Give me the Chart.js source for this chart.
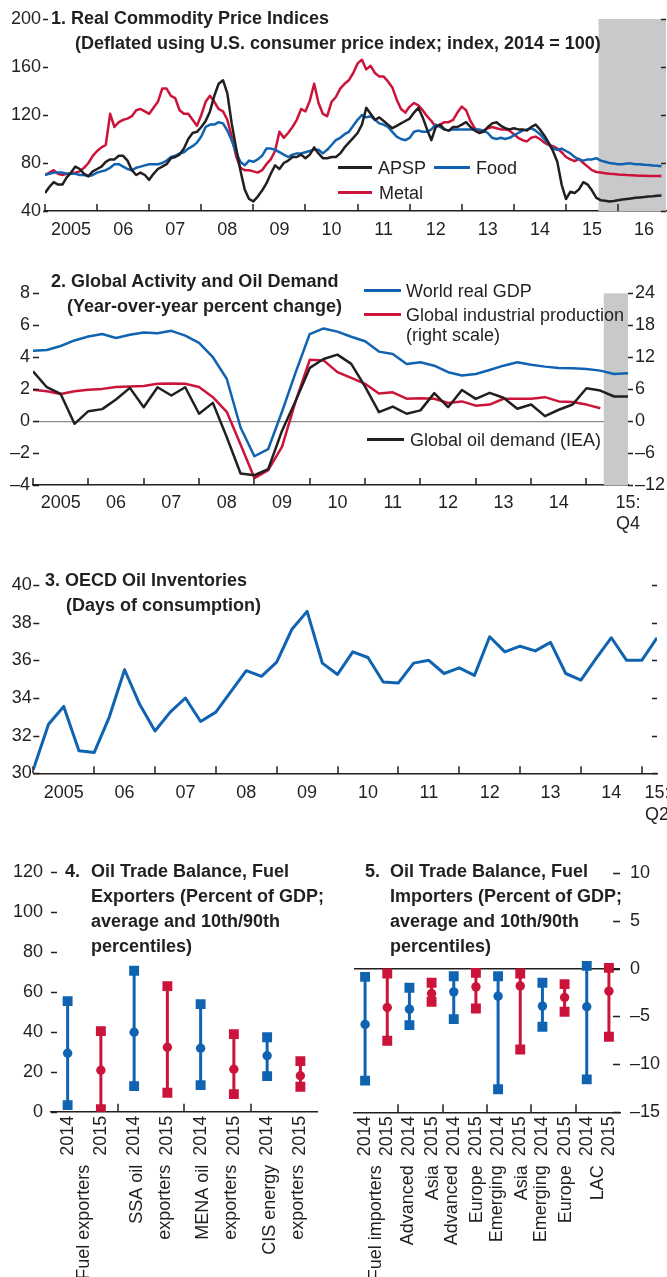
<!DOCTYPE html>
<html lang="en">
<head>
<meta charset="utf-8">
<title>Commodity prices, global activity, oil inventories and oil trade balances</title>
<script src="https://cdn.jsdelivr.net/npm/chart.js@4.4.1/dist/chart.umd.min.js"></script>
<style>
  html, body { margin: 0; padding: 0; background: #fff; }
  #page { position: relative; width: 667px; height: 1277px; overflow: hidden;
          font-family: "Liberation Sans", Arial, sans-serif; color: #231f20; }
  #page canvas { position: absolute; }
  .title { position: absolute; font-size: 18px; font-weight: bold; line-height: 25px; white-space: nowrap; }
  .key { position: absolute; font-size: 18px; line-height: 20px; white-space: nowrap; }
  .swatch { position: absolute; height: 3px; }
</style>
</head>
<body>
<div id="page">
  <canvas id="c1" width="667" height="245" style="left:0;top:0"></canvas>
  <canvas id="c2" width="667" height="270" style="left:0;top:270px"></canvas>
  <canvas id="c3" width="667" height="270" style="left:0;top:560px"></canvas>
  <canvas id="c4" width="340" height="427" style="left:0;top:850px"></canvas>
  <canvas id="c5" width="327" height="427" style="left:340px;top:850px"></canvas>

  <div class="title" style="left:51px;top:6px">1. Real Commodity Price Indices<br><span style="padding-left:24px">(Deflated using U.S. consumer price index; index, 2014 = 100)</span></div>
  <div class="swatch" style="left:338px;top:166px;width:34px;background:#231f20"></div>
  <div class="key" style="left:378px;top:158px">APSP</div>
  <div class="swatch" style="left:434px;top:166px;width:36px;background:#0f63b0"></div>
  <div class="key" style="left:476px;top:158px">Food</div>
  <div class="swatch" style="left:338px;top:191px;width:34px;background:#cc1339"></div>
  <div class="key" style="left:379px;top:183px">Metal</div>

  <div class="title" style="left:51px;top:269px">2. Global Activity and Oil Demand<br><span style="padding-left:16px">(Year-over-year percent change)</span></div>
  <div class="swatch" style="left:364px;top:289px;width:37px;background:#0f63b0"></div>
  <div class="key" style="left:406px;top:281px">World real GDP</div>
  <div class="swatch" style="left:364px;top:313px;width:37px;background:#cc1339"></div>
  <div class="key" style="left:406px;top:305px">Global industrial production<br>(right scale)</div>
  <div class="swatch" style="left:367px;top:438px;width:37px;background:#231f20"></div>
  <div class="key" style="left:410px;top:430px">Global oil demand (IEA)</div>

  <div class="title" style="left:45px;top:568px">3. OECD Oil Inventories<br><span style="padding-left:21px">(Days of consumption)</span></div>

  <div class="title" style="left:65px;top:859px">4.</div>
  <div class="title" style="left:91px;top:859px">Oil Trade Balance, Fuel<br>Exporters (Percent of GDP;<br>average and 10th/90th<br>percentiles)</div>

  <div class="title" style="left:365px;top:859px">5.</div>
  <div class="title" style="left:390px;top:859px">Oil Trade Balance, Fuel<br>Importers (Percent of GDP;<br>average and 10th/90th<br>percentiles)</div>
</div>

<script>
// ---- colours
var INK = '#231f20', BLUE = '#0f63b0', RED = '#cc1339', SHADE = '#c8c9ca', ZERO = '#8c8c8c';

// ---- panel 1: real commodity prices, monthly Jan 2005 - Nov 2016 (2014 = 100)
var years1 = ['2005', '06', '07', '08', '09', '10', '11', '12', '13', '14', '15', '16'];
var apsp = [
  55, 60, 64, 62, 62, 68, 72, 77, 75, 71, 69, 73,
  75, 77, 81, 83, 83, 86, 86, 82, 74, 70, 72, 70,
  66, 71, 75, 77, 79, 84, 85, 87, 92, 100, 105, 106,
  110, 115, 123, 136, 146, 149, 138, 113, 93, 74, 58, 50,
  48, 52, 57, 63, 71, 78, 75, 80, 82, 85, 85, 87,
  84, 87, 93, 88, 84, 84, 85, 85, 88, 93, 97, 101,
  105, 112, 126, 121, 116, 118, 115, 112, 109, 111, 113, 115,
  117, 122, 126, 118, 108, 99, 110, 112, 108, 107, 110, 110,
  112, 114, 110, 107, 105, 106, 110, 113, 114, 111, 109, 108,
  109, 108, 108, 107, 110, 112, 108, 103, 97, 90, 81, 62,
  50, 56, 55, 58, 64, 62, 57, 51, 49, 48.5, 48, 48.3,
  49, 49.5, 50, 50.5, 51, 51.3, 51.6, 52, 52.3, 52.7, 53
];
var food = [
  70, 71, 72, 72, 72, 71, 71, 71, 70, 70, 69, 70,
  72, 73, 74, 76, 79, 79, 77, 75, 74, 76, 77, 78,
  79, 79, 79, 80, 82, 85, 86, 88, 89, 92, 94, 97,
  102, 110, 112, 112, 114, 113, 107, 99, 89, 81, 78, 82,
  81, 83, 86, 92, 92, 91, 89, 87, 85, 87, 88, 88,
  89, 90, 91, 91, 88, 91, 95, 99, 101, 104, 106, 111,
  116, 120, 118, 119, 116, 113, 112, 110, 106, 102, 100, 99,
  101, 106, 107, 106, 106, 108, 112, 110, 108, 107, 108, 108,
  108, 108, 108, 108, 108, 107, 105, 101, 100, 101, 100, 101,
  103, 105, 107, 108, 109, 107, 104, 100, 96, 92, 91, 92,
  90, 88, 85, 83, 82, 83, 83, 84, 82, 81, 80, 79.5,
  79, 79, 79.5, 79.5, 79, 79, 78.5, 78.3, 78, 77.8, 77.3
];
var metal = [
  70, 72, 74, 71, 70, 71, 71, 72, 73, 76, 80, 86,
  90, 93, 95, 121, 110, 114, 116, 117, 119, 124, 125, 123,
  121, 126, 131, 142, 142, 136, 134, 124, 121, 121, 116, 111,
  120, 131, 136, 131, 125, 123, 116, 102, 86, 76, 74, 74,
  73, 72, 74, 79, 83, 90, 106, 101, 105, 110, 116, 125,
  123, 132, 146, 130, 121, 119, 131, 135, 142, 146, 149, 155,
  163, 166, 158, 161, 155, 152, 152, 148, 143, 133, 125, 122,
  127, 130, 128, 124, 119, 115, 110, 112, 114, 114, 116, 122,
  127, 124, 115, 109, 106, 107, 109, 110, 109, 108, 108, 107,
  104, 101, 99, 98, 101, 102, 100, 97, 95, 94, 92, 89,
  85, 83, 81.5, 83.5, 80, 77, 74, 72.5, 72, 71.5, 71, 70.8,
  70.5, 70.3, 70, 69.8, 69.6, 69.4, 69.3, 69.2, 69.1, 69.1, 69.1
];
var futuresFrom1 = 2015.625;   // shaded: futures prices

// ---- panel 2: quarterly 2005:Q1 - 2015:Q4, y/y percent change
var years2 = ['2005', '06', '07', '08', '09', '10', '11', '12', '13', '14', ['15:', 'Q4']];
var worldGdp = [4.4, 4.45, 4.7, 5.05, 5.3, 5.45, 5.2, 5.4, 5.55, 5.5, 5.65, 5.35, 4.9, 4.0, 2.65, -0.4,
  -2.2, -1.75, 0.6, 3.1, 5.45, 5.8, 5.6, 5.28, 5.0, 4.35, 4.2, 3.58, 3.68, 3.47, 3.06, 2.85,
  2.95, 3.2, 3.47, 3.68, 3.53, 3.41, 3.33, 3.31, 3.26, 3.16, 2.95, 3.0];
var industrialProd = [5.9, 5.6, 5.1, 5.6, 5.9, 6.05, 6.4, 6.5, 6.6, 7.0, 7.05, 7.0, 6.4, 4.5, 1.75, -4.4,
  -10.7, -9.2, -4.8, 3.9, 11.5, 11.4, 9.2, 8.1, 7.0, 5.2, 5.4, 4.2, 4.3, 4.2, 3.4, 3.7,
  2.9, 3.1, 4.2, 4.2, 4.2, 4.5, 3.7, 3.6, 3.1, 2.4];
var oilDemand = [3.12, 2.12, 1.7, -0.17, 0.62, 0.75, 1.35, 2.08, 0.87, 2.12, 1.6, 2.12, 0.46, 1.14, -1.0, -3.28,
  -3.39, -3.0, -0.6, 1.3, 3.33, 3.89, 4.16, 3.58, 2.16, 0.56, 0.91, 0.46, 0.67, 1.75, 0.87, 1.95,
  1.39, 1.77, 1.46, 0.77, 1.04, 0.31, 0.71, 1.04, 2.06, 1.91, 1.54, 1.54];
var projFrom2 = 41.25;

// ---- panel 3: quarterly 2005:Q1 - 2015:Q2, days of consumption
var years3 = ['2005', '06', '07', '08', '09', '10', '11', '12', '13', '14', ['15:', 'Q2']];
var oecdStocks = [30.2, 32.6, 33.55, 31.2, 31.1, 33.0, 35.5, 33.65, 32.25, 33.25, 34.0, 32.75, 33.25, 34.35,
  35.45, 35.15, 35.9, 37.65, 38.6, 35.85, 35.25, 36.45, 36.15, 34.85, 34.8, 35.85, 36.0, 35.3, 35.6,
  35.2, 37.25, 36.45, 36.75, 36.5, 36.95, 35.3, 34.95, 36.1, 37.2, 36.0, 36.0, 37.2];

// ---- panel 4: fuel exporters, percent of GDP
var exporterYears = ['2014', '2015', '2014', '2015', '2014', '2015', '2014', '2015'];
var exporterGroups = [['Fuel exporters'], ['SSA oil', 'exporters'], ['MENA oil', 'exporters'], ['CIS energy', 'exporters']];
var exp14Avg = [29.2, 39.7, 31.7, 28.0];
var exp14P10 = [3.3, 12.8, 13.3, 17.8];
var exp14P90 = [55.3, 70.5, 53.8, 37.2];
var exp15Avg = [20.7, 32.2, 21.2, 18.0];
var exp15P10 = [1.3, 9.5, 8.8, 12.5];
var exp15P90 = [40.3, 62.8, 38.8, 25.3];

// ---- panel 5: fuel importers, percent of GDP
var importerYears = ['2014', '2015', '2014', '2015', '2014', '2015', '2014', '2015', '2014', '2015', '2014', '2015'];
var importerGroups = [['Fuel importers'], ['Advanced', 'Asia'], ['Advanced', 'Europe'], ['Emerging', 'Asia'], ['Emerging', 'Europe'], ['LAC']];
var imp14Avg = [-5.83, -4.24, -2.43, -2.88, -3.92, -3.99];
var imp14P10 = [-11.7, -5.9, -5.28, -12.6, -6.08, -11.56];
var imp14P90 = [-0.87, -2.01, -0.8, -0.8, -1.49, 0.28];
var imp15Avg = [-4.06, -2.6, -1.91, -1.81, -3.02, -2.36];
var imp15P10 = [-7.53, -3.47, -4.17, -8.44, -4.51, -7.12];
var imp15P90 = [-0.52, -1.49, -0.45, -0.52, -1.63, 0.07];

Chart.defaults.font.family = '"Liberation Sans", Arial, sans-serif';
Chart.defaults.font.size = 18;
Chart.defaults.color = INK;
Chart.defaults.animation = false;
Chart.defaults.responsive = false;
Chart.defaults.plugins.legend.display = false;
Chart.defaults.plugins.tooltip.enabled = false;
Chart.defaults.elements.point.radius = 0;
Chart.defaults.elements.line.tension = 0;

var NO_GRID = { display: false, drawTicks: false };

function fmt(v) { return v < 0 ? '\u2013' + Math.abs(v) : String(v); }
function range(a, b, step) { var out = []; for (var v = a; v <= b; v += step) out.push(v); return out; }

// fixed axis sizes so the plot areas line up with the page layout
function fixWidth(w) { return function (s) { s.width = w; s.paddingTop = 0; s.paddingBottom = 0; }; }
function fixHeight(h) { return function (s) { s.height = h; s.paddingLeft = 0; s.paddingRight = 0; }; }

// grey band for futures / projections
function shadePlugin(from) {
  return {
    id: 'shade',
    beforeDatasetsDraw: function (chart) {
      var a = chart.chartArea, x0 = chart.scales.x.getPixelForValue(from);
      chart.ctx.save();
      chart.ctx.fillStyle = SHADE;
      chart.ctx.fillRect(x0, a.top, a.right - x0, a.bottom - a.top);
      chart.ctx.restore();
    }
  };
}

// short tick marks drawn inside the plot edges, like the original
function marksPlugin(xMarks, yMarks) {
  return {
    id: 'marks',
    afterDatasetsDraw: function (chart) {
      var ctx = chart.ctx, a = chart.chartArea;
      ctx.save();
      ctx.strokeStyle = INK;
      ctx.lineWidth = 1.5;
      ctx.beginPath();
      xMarks.forEach(function (m) {
        var s = chart.scales.x;
        m.values.forEach(function (v) {
          var p = Math.round(s.getPixelForValue(v));
          ctx.moveTo(p, a.bottom);
          ctx.lineTo(p, a.bottom - m.len);
        });
      });
      yMarks.forEach(function (m) {
        var s = chart.scales[m.axis];
        var x0 = (m.side === 'right' ? a.right : a.left) + (m.offset || 0);
        s.ticks.forEach(function (t) {
          var p = Math.round(s.getPixelForValue(t.value)) + 0.5;
          var len = t.label === '' ? m.minor : m.major;
          ctx.moveTo(x0, p);
          ctx.lineTo(x0 + m.dir * len, p);
        });
      });
      ctx.stroke();
      ctx.restore();
    }
  };
}

// rotated group names under the year labels
function groupLabelPlugin(groups, lineHeight, offset) {
  return {
    id: 'groupLabels',
    afterDraw: function (chart) {
      var ctx = chart.ctx, a = chart.chartArea, s = chart.scales.x;
      ctx.save();
      ctx.fillStyle = INK;
      ctx.font = '18px "Liberation Sans", Arial, sans-serif';
      ctx.textAlign = 'right';
      ctx.textBaseline = 'middle';
      groups.forEach(function (lines, g) {
        var cx = s.getPixelForValue(2 * g + 0.5);
        lines.forEach(function (line, j) {
          ctx.save();
          ctx.translate(cx + (j - (lines.length - 1) / 2) * lineHeight, a.bottom + offset);
          ctx.rotate(-Math.PI / 2);
          ctx.fillText(line, 0, 0);
          ctx.restore();
        });
      });
      ctx.restore();
    }
  };
}

function monthly(vals) { return vals.map(function (v, i) { return { x: 2005 + i / 12, y: v }; }); }
function indexed(vals) { return vals.map(function (v, i) { return { x: i, y: v }; }); }

function lineSet(data, color, axis) {
  return { data: data, borderColor: color, borderWidth: 2.5, pointRadius: 0, borderJoinStyle: 'round', yAxisID: axis || 'y' };
}

// average dot, 10th/90th percentile squares and the stem between them
function rangeSets(avg, lo, hi, off, color) {
  var xs = avg.map(function (v, i) { return 2 * i + off; });
  var stem = [], ends = [];
  xs.forEach(function (x, i) {
    stem.push({ x: x, y: lo[i] }, { x: x, y: hi[i] }, { x: x, y: null });
    ends.push({ x: x, y: lo[i] }, { x: x, y: hi[i] });
  });
  return [
    { data: xs.map(function (x, i) { return { x: x, y: avg[i] }; }), showLine: false, pointStyle: 'circle',
      pointRadius: 4.7, pointBackgroundColor: color, pointBorderWidth: 0, borderColor: color },
    { data: ends, showLine: false, pointStyle: 'rect', pointRadius: 7,
      pointBackgroundColor: color, pointBorderWidth: 0, borderColor: color },
    { data: stem, borderColor: color, borderWidth: 3, pointRadius: 0, spanGaps: false }
  ];
}

// ---- chart 1
new Chart(document.getElementById('c1'), {
  type: 'line',
  data: { datasets: [lineSet(monthly(apsp), INK), lineSet(monthly(food), BLUE), lineSet(monthly(metal), RED)] },
  options: {
    layout: { padding: { top: 19, right: 1, left: 0, bottom: 0 } },
    scales: {
      x: {
        type: 'linear', min: 2005, max: 2016.92,
        grid: NO_GRID, border: { color: INK, width: 1.5 },
        afterBuildTicks: function (s) { s.ticks = years1.map(function (y, i) { return { value: 2005.5 + i }; }); },
        ticks: { autoSkip: false, maxRotation: 0, padding: 8, callback: function (v, i) { return years1[i]; } },
        afterFit: fixHeight(34)
      },
      y: {
        min: 40, max: 200, grid: NO_GRID, border: { display: false },
        ticks: { stepSize: 20, padding: 4, callback: function (v) { return v % 40 === 0 ? v : ''; } },
        afterFit: fixWidth(45)
      }
    }
  },
  plugins: [shadePlugin(futuresFrom1), marksPlugin(
    [{ values: range(2005, 2016, 1), len: 7 }],
    [{ axis: 'y', side: 'left', dir: 1, major: 5, minor: 3, offset: -2 },
     { axis: 'y', side: 'right', dir: -1, major: 5, minor: 4 }])]
});

// ---- chart 2
new Chart(document.getElementById('c2'), {
  type: 'line',
  data: { datasets: [lineSet(indexed(oilDemand), INK), lineSet(indexed(worldGdp), BLUE), lineSet(indexed(industrialProd), RED, 'yr')] },
  options: {
    layout: { padding: { top: 23.3, right: 0, left: 0, bottom: 0 } },
    scales: {
      x: {
        type: 'linear', min: 0, max: worldGdp.length - 1,
        grid: NO_GRID, border: { color: INK, width: 1.5 },
        afterBuildTicks: function (s) {
          s.ticks = years2.map(function (y, i) { return { value: i < years2.length - 1 ? 4 * i + 2 : worldGdp.length - 1 }; });
        },
        ticks: { autoSkip: false, maxRotation: 0, padding: 7, callback: function (v, i) { return years2[i]; } },
        afterFit: fixHeight(55)
      },
      y: {
        min: -4, max: 8, border: { display: false },
        grid: { drawTicks: false, lineWidth: 1.2,
                color: function (c) { return c.tick && c.tick.value === 0 ? ZERO : 'rgba(0,0,0,0)'; } },
        ticks: { stepSize: 1, padding: 3, callback: function (v) { return v % 2 === 0 ? fmt(v) : ''; } },
        afterFit: fixWidth(33)
      },
      yr: {
        position: 'right', min: -12, max: 24, grid: NO_GRID, border: { display: false },
        ticks: { stepSize: 3, padding: 7, callback: function (v) { return v % 6 === 0 ? fmt(v) : ''; } },
        afterFit: fixWidth(39)
      }
    }
  },
  plugins: [shadePlugin(projFrom2), marksPlugin(
    [{ values: range(0, 40, 4), len: 7 }],
    [{ axis: 'y', side: 'left', dir: 1, major: 6, minor: 3 },
     { axis: 'yr', side: 'right', dir: 1, major: 5, minor: 3 }])]
});

// ---- chart 3
new Chart(document.getElementById('c3'), {
  type: 'line',
  data: { datasets: [Object.assign(lineSet(indexed(oecdStocks), BLUE), { borderWidth: 3 })] },
  options: {
    layout: { padding: { top: 25, right: 10, left: 0, bottom: 0 } },
    scales: {
      x: {
        type: 'linear', min: 0, max: oecdStocks.length - 1,
        grid: NO_GRID, border: { color: INK, width: 1.5 },
        afterBuildTicks: function (s) {
          s.ticks = years3.map(function (y, i) { return { value: i < years3.length - 1 ? 4 * i + 2 : oecdStocks.length - 1 }; });
        },
        ticks: { autoSkip: false, maxRotation: 0, padding: 9, callback: function (v, i) { return years3[i]; } },
        afterFit: fixHeight(56.7)
      },
      y: {
        min: 30, max: 40, grid: NO_GRID, border: { display: false },
        ticks: { stepSize: 1, padding: 1.5, callback: function (v) { return v % 2 === 0 ? v : ''; } },
        afterFit: fixWidth(33.3)
      }
    }
  },
  plugins: [marksPlugin(
    [{ values: range(0, 40, 4), len: 7 }],
    [{ axis: 'y', side: 'left', dir: 1, major: 6, minor: 3 },
     { axis: 'y', side: 'right', dir: -1, major: 5, minor: 3 }])]
});

// ---- chart 4
new Chart(document.getElementById('c4'), {
  type: 'line',
  data: { datasets: rangeSets(exp14Avg, exp14P10, exp14P90, 0, BLUE).concat(rangeSets(exp15Avg, exp15P10, exp15P90, 1, RED)) },
  options: {
    layout: { padding: { top: 21.7, right: 23, left: 0, bottom: 0 } },
    scales: {
      x: {
        type: 'linear', min: -0.5, max: exporterYears.length - 0.5,
        grid: NO_GRID, border: { color: INK, width: 1.5 },
        afterBuildTicks: function (s) { s.ticks = exporterYears.map(function (y, i) { return { value: i }; }); },
        ticks: { autoSkip: false, minRotation: 90, maxRotation: 90, padding: 4, callback: function (v, i) { return exporterYears[i]; } },
        afterFit: fixHeight(165.3)
      },
      y: {
        min: 0, max: 120, grid: NO_GRID, border: { display: false },
        ticks: { stepSize: 10, padding: 8, callback: function (v) { return v % 20 === 0 ? v : ''; } },
        afterFit: fixWidth(51)
      }
    }
  },
  plugins: [marksPlugin(
    [{ values: [1.5, 3.5, 5.5], len: 8 }],
    [{ axis: 'y', side: 'left', dir: 1, major: 6, minor: 3 }]),
    groupLabelPlugin(exporterGroups, 28, 53)]
});

// ---- chart 5
new Chart(document.getElementById('c5'), {
  type: 'line',
  data: { datasets: rangeSets(imp14Avg, imp14P10, imp14P90, 0, BLUE).concat(rangeSets(imp15Avg, imp15P10, imp15P90, 1, RED)) },
  options: {
    layout: { padding: { top: 22.7, right: 0, left: 14, bottom: 0 } },
    scales: {
      x: {
        type: 'linear', min: -0.5, max: importerYears.length - 0.5,
        grid: NO_GRID, border: { color: INK, width: 1.5 },
        afterBuildTicks: function (s) { s.ticks = importerYears.map(function (y, i) { return { value: i }; }); },
        ticks: { autoSkip: false, minRotation: 90, maxRotation: 90, padding: 4, callback: function (v, i) { return importerYears[i]; } },
        afterFit: fixHeight(164.7)
      },
      y: {
        position: 'right', min: -15, max: 10, border: { display: false },
        grid: { drawTicks: false, lineWidth: 1.5,
                color: function (c) { return c.tick && c.tick.value === 0 ? INK : 'rgba(0,0,0,0)'; } },
        ticks: { stepSize: 2.5, padding: 10, callback: function (v) { return v % 5 === 0 ? fmt(v) : ''; } },
        afterFit: fixWidth(47)
      }
    }
  },
  plugins: [marksPlugin(
    [{ values: [1.5, 3.5, 5.5, 7.5, 9.5], len: 8 }],
    [{ axis: 'y', side: 'right', dir: -1, major: 7, minor: 4 }]),
    groupLabelPlugin(importerGroups, 25, 53)]
});
</script>
</body>
</html>
